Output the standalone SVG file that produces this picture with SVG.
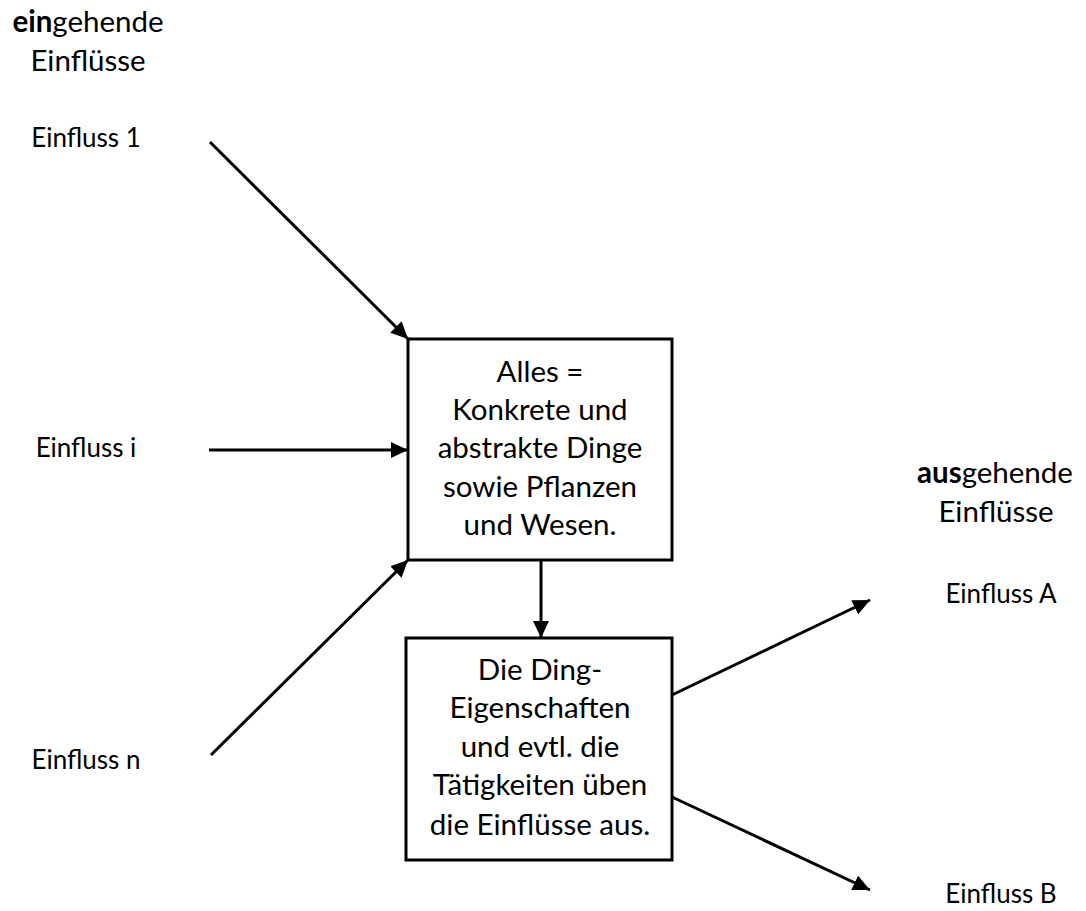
<svg xmlns="http://www.w3.org/2000/svg" width="1086" height="911" viewBox="0 0 1086 911">
  <style>
    text { font-family: Lato, "Open Sans", sans-serif; font-size: 26px; fill: #000; text-anchor: middle; }
    .big { font-size: 29.5px; }
    .box { fill: #fff; stroke: #000; stroke-width: 3; }
    .edge { stroke: #000; stroke-width: 3; fill: none; marker-end: url(#arrow); }
    .b { font-weight: bold; }
  </style>
  <defs>
    <marker id="arrow" markerUnits="userSpaceOnUse" markerWidth="18" markerHeight="16" refX="17" refY="8" orient="auto">
      <path d="M0,0 L17,8 L0,16 Z" fill="#000"/>
    </marker>
  </defs>

  <rect width="1086" height="911" fill="#fff"/>

  <!-- connectors -->
  <g id="connectors">
    <line class="edge" x1="210" y1="142" x2="408" y2="339"/>
    <line class="edge" x1="209" y1="450" x2="408" y2="450"/>
    <line class="edge" x1="211" y1="755" x2="408" y2="560"/>
    <line class="edge" x1="541" y1="561" x2="541" y2="638"/>
    <line class="edge" x1="672" y1="695" x2="870" y2="600"/>
    <line class="edge" x1="672" y1="797" x2="870" y2="890"/>
  </g>

  <!-- headings -->
  <g id="heading-in" class="big">
    <text class="big" x="88" y="32"><tspan class="b">ein</tspan>gehende</text>
    <text class="big" x="88" y="71">Einflüsse</text>
  </g>
  <g id="heading-out">
    <text class="big" x="995" y="483"><tspan class="b">aus</tspan>gehende</text>
    <text class="big" x="996" y="522">Einflüsse</text>
  </g>

  <!-- incoming influences -->
  <g id="in-1"><text x="86" y="147">Einfluss 1</text></g>
  <g id="in-i"><text x="86" y="457">Einfluss i</text></g>
  <g id="in-n"><text x="86" y="769">Einfluss n</text></g>

  <!-- outgoing influences -->
  <g id="out-a"><text x="1001" y="603">Einfluss A</text></g>
  <g id="out-b"><text x="1001" y="903">Einfluss B</text></g>

  <!-- central thing -->
  <g id="alles">
    <rect class="box" x="408" y="339" width="264" height="221"/>
    <text class="big" x="540" y="382">Alles =</text>
    <text class="big" x="540" y="420">Konkrete und</text>
    <text class="big" x="540" y="458">abstrakte Dinge</text>
    <text class="big" x="540" y="497">sowie Pflanzen</text>
    <text class="big" x="540" y="535">und Wesen.</text>
  </g>

  <!-- properties -->
  <g id="eigenschaften">
    <rect class="box" x="406" y="638" width="266" height="222"/>
    <text class="big" x="540" y="680">Die Ding-</text>
    <text class="big" x="540" y="718">Eigenschaften</text>
    <text class="big" x="540" y="757">und evtl. die</text>
    <text class="big" x="540" y="795">Tätigkeiten üben</text>
    <text class="big" x="540" y="835">die Einflüsse aus.</text>
  </g>
</svg>
